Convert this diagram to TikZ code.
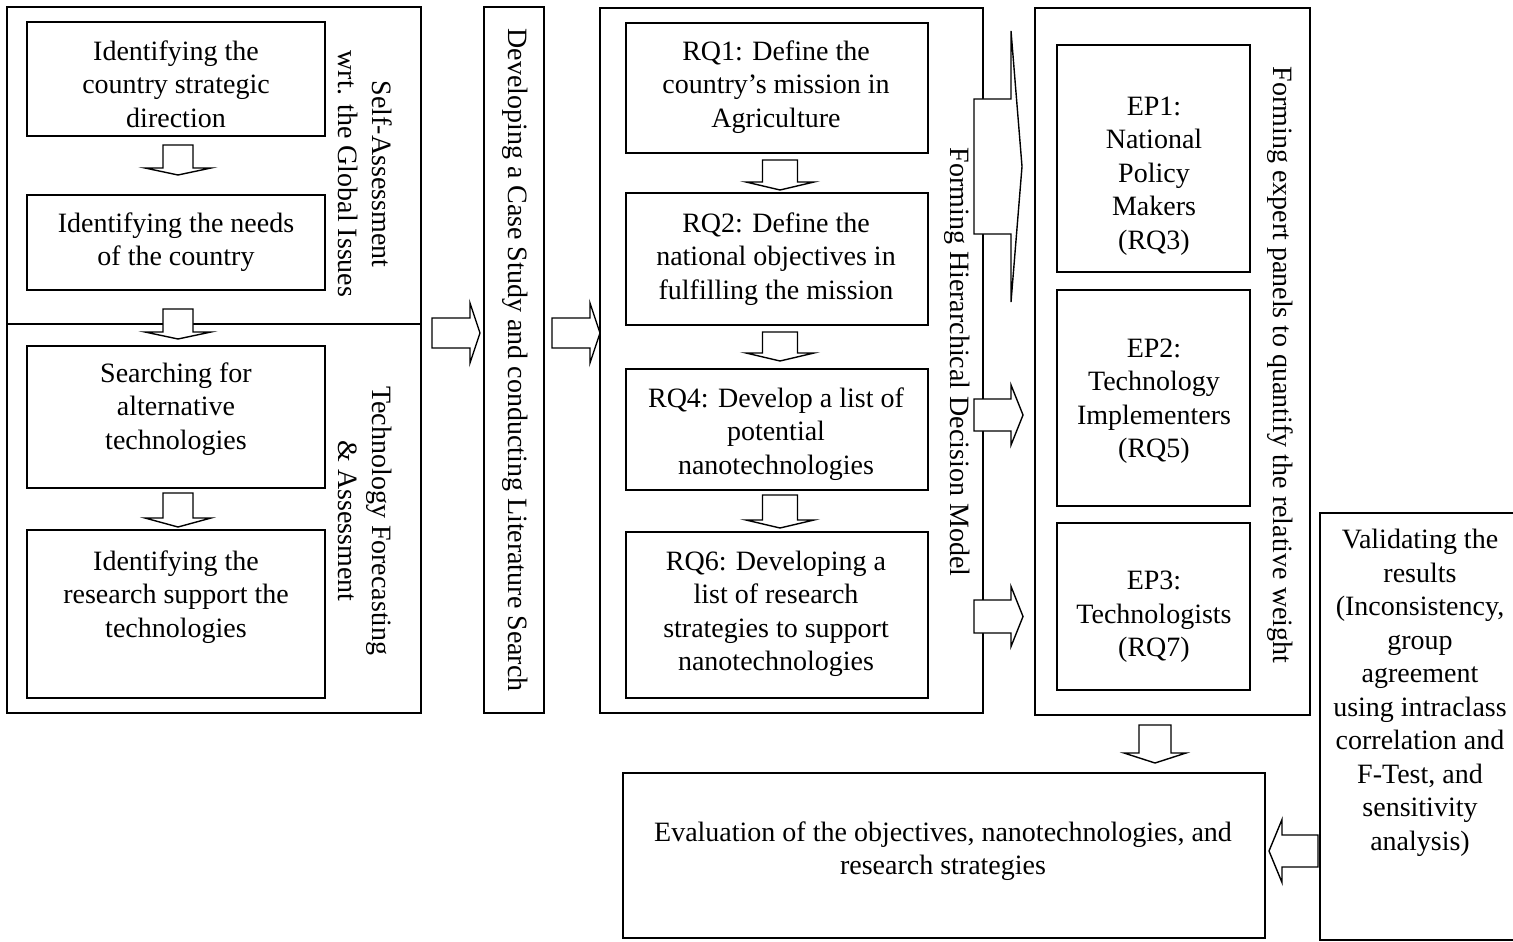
\documentclass[tikz,border=0pt]{standalone}
\usepackage{fontspec}
\setmainfont{Liberation Serif}
\usetikzlibrary{fit}
% block arrows: down (centre x, shaft half, head half, top, head base, tip)
\newcommand\dnarrow[6]{\draw[blk] ({#1-#2},#4) -- ({#1+#2},#4) -- ({#1+#2},#5) -- ({#1+#3},#5) -- (#1,#6) -- ({#1-#3},#5) -- ({#1-#2},#5) -- cycle;}
% horizontal (centre y, shaft half, head half, tail x, head base x, tip x)
\newcommand\hzarrow[6]{\draw[blk] (#4,{#1-#2}) -- (#5,{#1-#2}) -- (#5,{#1-#3}) -- (#6,#1) -- (#5,{#1+#3}) -- (#5,{#1+#2}) -- (#4,{#1+#2}) -- cycle;}
\begin{document}
\begin{tikzpicture}[x=0.5pt,y=-0.5pt,
  frame/.style={draw, line width=0.7pt, inner sep=0pt},
  txt/.style={align=center, font=\fontsize{14}{16.75}\selectfont, inner sep=0pt},
  vtxt/.style={txt, rotate=-90},
  blk/.style={draw, fill=white, line width=0.7pt, line join=miter}]
\useasboundingbox (0,0) rectangle (1513,941);

% left column: two stacked sections
\node[frame, fit={(7,7) (421,324)}] (secA) {};
\node[frame, fit={(7,324) (421,713)}] (secB) {};
\node[frame, fit={(27,22) (325,136)}] (b1) {};
\node[frame, fit={(27,195) (325,290)}] (b2) {};
\node[frame, fit={(27,346) (325,488)}] (b3) {};
\node[frame, fit={(27,530) (325,698)}] (b4) {};
\node[txt] (b1t) at (176,84) {Identifying the\\country strategic\\direction};
\node[txt] (b2t) at (176,242) {Identifying the needs\\of the country};
\node[txt] (b3t) at (176,409) {Searching for\\alternative\\technologies};
\node[txt] (b4t) at (176,597) {Identifying the\\research support the\\technologies};
\node[vtxt] (secAt) at (365,174) {Self-Assessment\\wrt. the Global Issues};
\node[vtxt] (secBt) at (365,521) {Technology Forecasting\\\& Assessment};

% literature search column
\node[frame, fit={(484,7) (544,713)}] (lit) {};
\node[vtxt] (litt) at (515,360) {Developing a Case Study and conducting Literature Search};

% hierarchical decision model column
\node[frame, fit={(600,8) (983,713)}] (hdm) {};
\node[frame, fit={(626,23) (928,153)}] (rq1) {};
\node[frame, fit={(626,193) (928,325)}] (rq2) {};
\node[frame, fit={(626,369) (928,490)}] (rq4) {};
\node[frame, fit={(626,532) (928,698)}] (rq6) {};
\node[txt] (rq1t) at (776,87) {RQ1: Define the\\country’s mission in\\Agriculture};
\node[txt] (rq2t) at (776,259) {RQ2: Define the\\national objectives in\\fulfilling the mission};
\node[txt] (rq4t) at (776,434) {RQ4: Develop a list of\\potential\\nanotechnologies};
\node[txt] (rq6t) at (776,614) {RQ6: Developing a\\list of research\\strategies to support\\nanotechnologies};
\node[vtxt] (hdmt) at (957,362) {Forming Hierarchical Decision Model};

% expert panels column
\node[frame, fit={(1035,8) (1310,715)}] (ep) {};
\node[frame, fit={(1057,45) (1250,272)}] (ep1) {};
\node[frame, fit={(1057,290) (1250,506)}] (ep2) {};
\node[frame, fit={(1057,523) (1250,690)}] (ep3) {};
\node[txt] (ep1t) at (1154,176) {EP1:\\National\\Policy\\Makers\\(RQ3)};
\node[txt] (ep2t) at (1154,401) {EP2:\\Technology\\Implementers\\(RQ5)};
\node[txt] (ep3t) at (1154,617) {EP3:\\Technologists\\(RQ7)};
\node[vtxt] (ept) at (1280,365) {Forming expert panels to quantify the relative weight};

% evaluation and validation
\node[frame, fit={(623,773) (1265,938)}] (ev) {};
\node[txt] (evt) at (943,851) {Evaluation of the objectives, nanotechnologies, and\\research strategies};
\node[frame, fit={(1320,513) (1530,940)}] (val) {};
\node[txt] (valt) at (1420,693) {Validating the\\results\\(Inconsistency,\\group\\agreement\\using intraclass\\correlation and\\F-Test, and\\sensitivity\\analysis)};

% block arrows
\dnarrow{178}{15}{33}{145}{168}{175}
\dnarrow{178}{15}{33}{309}{332}{339}
\dnarrow{178}{15}{33}{493}{518}{527}
\dnarrow{780}{17.5}{34}{160}{182}{190}
\dnarrow{780}{17.5}{34}{332}{353}{361}
\dnarrow{780}{17.5}{34}{495}{520}{528}
\dnarrow{1155}{16}{31}{725}{753}{763}
\hzarrow{333}{15}{30}{432}{470}{480}
\hzarrow{333}{15}{30}{552}{590}{600}
\hzarrow{166.5}{67.5}{135.5}{974}{1011}{1022}
\hzarrow{415}{16}{30}{974}{1011}{1023}
\hzarrow{616.5}{16.5}{30}{974}{1011}{1023}
\hzarrow{851}{16}{31.5}{1318}{1282}{1269}
\end{tikzpicture}
\end{document}
